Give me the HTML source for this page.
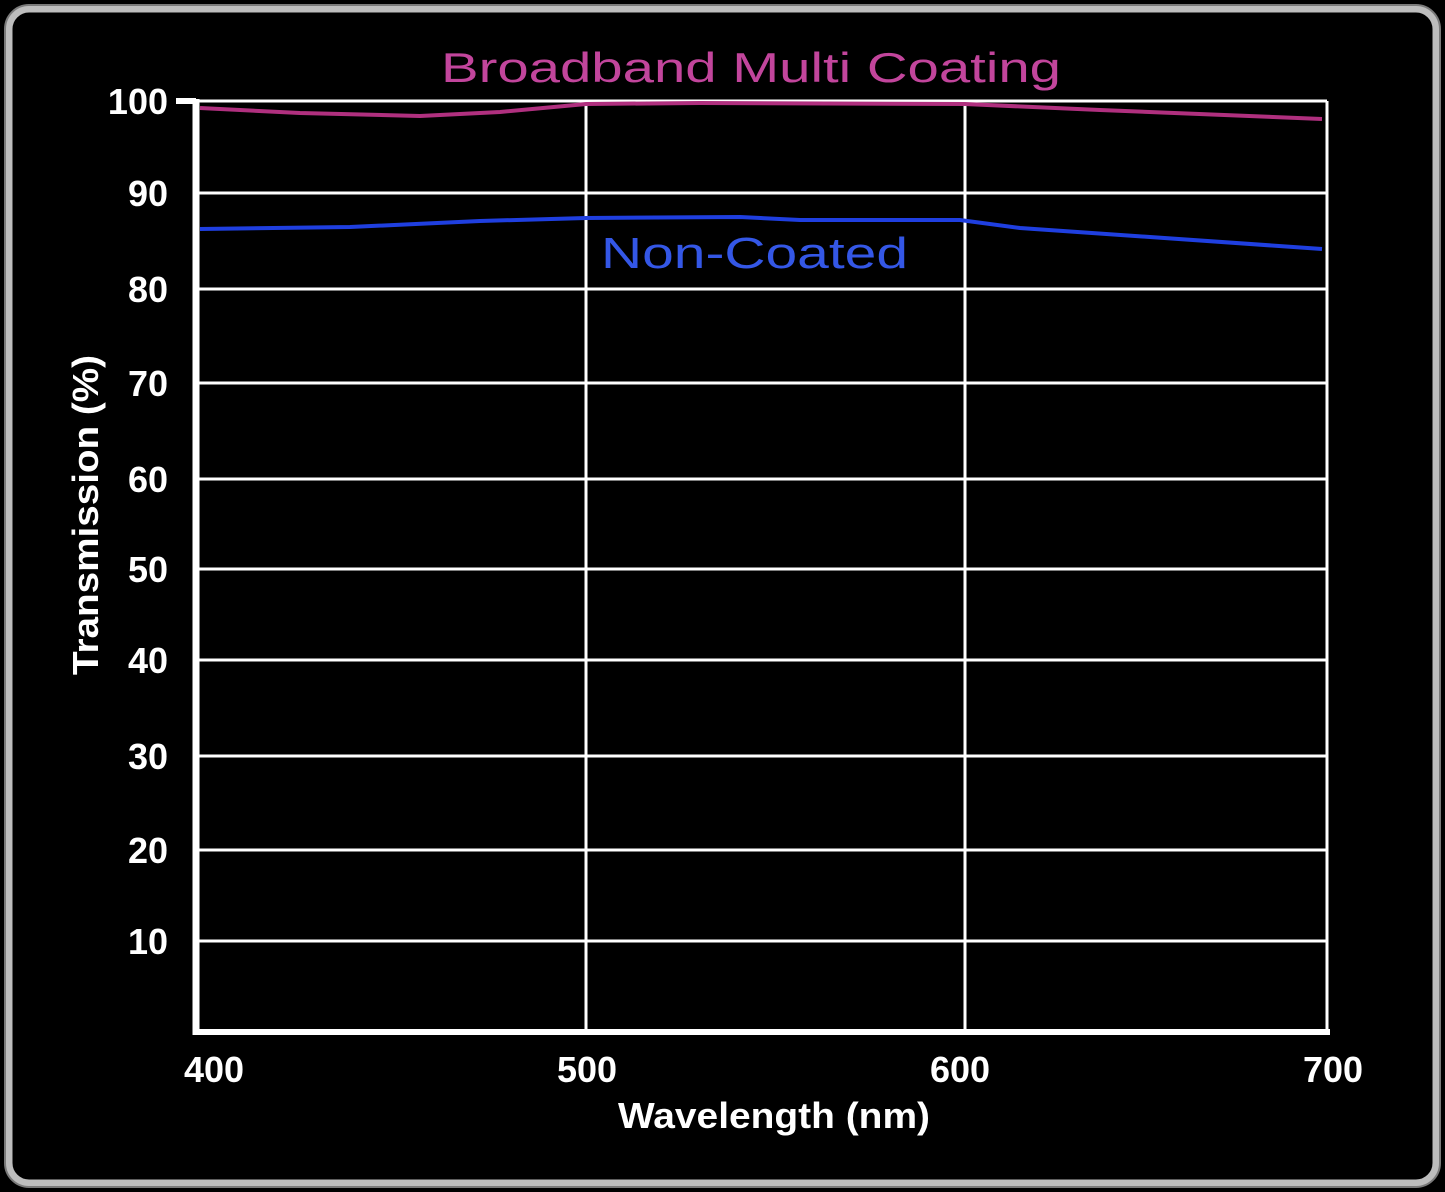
<!DOCTYPE html>
<html><head><style>
body{margin:0;background:#000;}
svg{display:block;}
text{font-family:"Liberation Sans",sans-serif;}
</style></head><body>
<svg width="1445" height="1192" xmlns="http://www.w3.org/2000/svg">
<rect width="1445" height="1192" fill="#000"/>
<rect x="9" y="9" width="1427" height="1174" rx="20" fill="none" stroke="#bdbdbd" stroke-width="7"/>
<rect x="5" y="5" width="1435" height="1182" rx="24" fill="none" stroke="#7a7a7a" stroke-width="2"/>
<g stroke="#fff" stroke-width="3">
<line x1="196" y1="101" x2="1327" y2="101"/>
<line x1="196" y1="193" x2="1327" y2="193"/>
<line x1="196" y1="289" x2="1327" y2="289"/>
<line x1="196" y1="383" x2="1327" y2="383"/>
<line x1="196" y1="479" x2="1327" y2="479"/>
<line x1="196" y1="569" x2="1327" y2="569"/>
<line x1="196" y1="660" x2="1327" y2="660"/>
<line x1="196" y1="756" x2="1327" y2="756"/>
<line x1="196" y1="850" x2="1327" y2="850"/>
<line x1="196" y1="941" x2="1327" y2="941"/>
<line x1="586" y1="101" x2="586" y2="1032"/>
<line x1="965" y1="101" x2="965" y2="1032"/>
<line x1="1327" y1="101" x2="1327" y2="1032"/>
</g>
<line x1="196" y1="99" x2="196" y2="1035" stroke="#fff" stroke-width="7"/>
<line x1="193" y1="1032" x2="1330" y2="1032" stroke="#fff" stroke-width="6"/>
<line x1="176" y1="101" x2="196" y2="101" stroke="#fff" stroke-width="6"/>
<polyline points="200,108 300,113 420,116 500,112 586,104 700,103 965,104 1100,110 1322,119" fill="none" stroke="#b0307f" stroke-width="4"/>
<polyline points="200,229 350,227 480,221 586,218 740,217 800,220 960,220 1020,228 1150,237 1322,249" fill="none" stroke="#1f3fe0" stroke-width="4"/>
<text x="441" y="82" font-size="42" fill="#c2459c" textLength="620" lengthAdjust="spacingAndGlyphs">Broadband Multi Coating</text>
<text x="601" y="268" font-size="44" fill="#3457e6" textLength="307" lengthAdjust="spacingAndGlyphs">Non-Coated</text>
<g font-size="36" font-weight="bold" fill="#fff" text-anchor="end">
<text x="168" y="114">100</text>
<text x="168" y="206">90</text>
<text x="168" y="302">80</text>
<text x="168" y="396">70</text>
<text x="168" y="492">60</text>
<text x="168" y="582">50</text>
<text x="168" y="673">40</text>
<text x="168" y="769">30</text>
<text x="168" y="863">20</text>
<text x="168" y="954">10</text>
</g>
<g font-size="36" font-weight="bold" fill="#fff" text-anchor="middle">
<text x="214" y="1082">400</text>
<text x="587" y="1082">500</text>
<text x="960" y="1082">600</text>
<text x="1333" y="1082">700</text>
</g>
<text x="618" y="1128" font-size="36" font-weight="bold" fill="#fff" textLength="312" lengthAdjust="spacingAndGlyphs">Wavelength (nm)</text>
<text transform="translate(98,675) rotate(-90)" font-size="36" font-weight="bold" fill="#fff" textLength="320" lengthAdjust="spacingAndGlyphs">Transmission (%)</text>
</svg>
</body></html>
